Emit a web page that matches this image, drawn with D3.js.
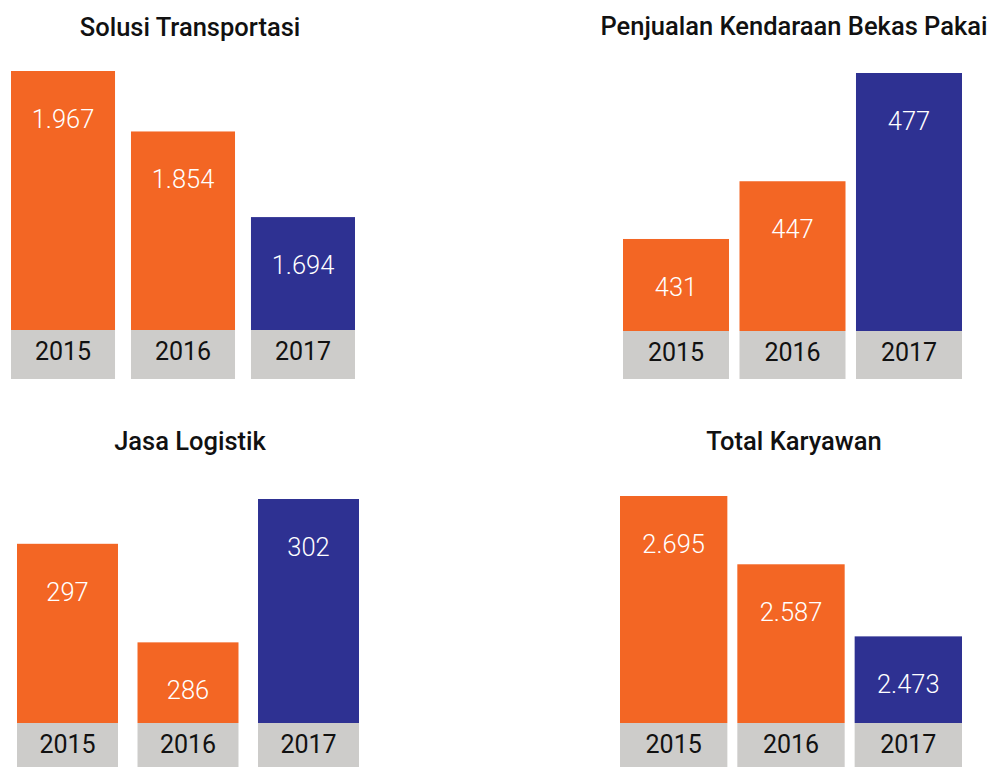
<!DOCTYPE html>
<html>
<head>
<meta charset="utf-8">
<script src="https://cdn.jsdelivr.net/npm/d3@7"></script>
<style>
  html, body { margin: 0; padding: 0; background: #ffffff; }
  svg { display: block; }
</style>
</head>
<body>
<svg id="chart" width="995" height="767"></svg>
<script>
// Operating highlights, 2015–2017
const years = ["2015", "2016", "2017"];
const panelTitles = [
  "Solusi Transportasi",
  "Penjualan Kendaraan Bekas Pakai",
  "Jasa Logistik",
  "Total Karyawan"
];
const solusiTransportasi = [1967, 1854, 1694];
const penjualanKendaraanBekas = [431, 447, 477];
const jasaLogistik = [297, 286, 302];
const totalKaryawan = [2695, 2587, 2473];
// lower end of each panel's value axis (bars start from a truncated baseline)
const scaleFloors = [1483, 405.5, 277, 2336];

const seriesList = [solusiTransportasi, penjualanKendaraanBekas, jasaLogistik, totalKaryawan];

// Panel geometry
const layout = [
  { x0: 11,  x1: 355, pad: 0.133, top: 71,  base: 330, strip: 49, titleX: 190, titleY: 36 },
  { x0: 623, x1: 962, pad: 0.09,  top: 73,  base: 331, strip: 48, titleX: 794, titleY: 35 },
  { x0: 17,  x1: 359, pad: 0.162, top: 499, base: 723, strip: 46, titleX: 190, titleY: 450 },
  { x0: 620, x1: 962, pad: 0.085, top: 496, base: 723, strip: 46, titleX: 794, titleY: 450 }
];

const ORANGE = "#F36624";
const BLUE = "#2E3192";
const GREY = "#CDCCCA";
const FONT = "Roboto, 'Noto Sans', sans-serif";

const fmt = d3.formatLocale({ decimal: ",", thousands: ".", grouping: [3], currency: ["", ""] }).format(",d");

const svg = d3.select("#chart");

seriesList.forEach((values, i) => {
  const L = layout[i];
  const g = svg.append("g");

  const x = d3.scaleBand().domain(years).range([L.x0, L.x1]).paddingInner(L.pad).paddingOuter(0);
  const y = d3.scaleLinear().domain([scaleFloors[i], d3.max(values)]).range([L.base, L.top]);

  const rows = years.map((yr, j) => ({ year: yr, value: values[j], last: j === years.length - 1 }));

  // title
  g.append("text")
    .attr("x", L.titleX)
    .attr("y", L.titleY)
    .attr("text-anchor", "middle")
    .attr("font-family", FONT)
    .attr("font-weight", 500)
    .attr("font-size", 25.5)
    .attr("fill", "#111111")
    .text(panelTitles[i]);

  // value bars
  g.selectAll("rect.bar")
    .data(rows)
    .join("rect")
    .attr("class", "bar")
    .attr("x", d => x(d.year))
    .attr("y", d => y(d.value))
    .attr("width", x.bandwidth())
    .attr("height", d => L.base - y(d.value))
    .attr("fill", d => d.last ? BLUE : ORANGE);

  // year strips under each bar
  g.selectAll("rect.strip")
    .data(rows)
    .join("rect")
    .attr("class", "strip")
    .attr("x", d => x(d.year))
    .attr("y", L.base)
    .attr("width", x.bandwidth())
    .attr("height", L.strip)
    .attr("fill", GREY);

  g.selectAll("text.year")
    .data(rows)
    .join("text")
    .attr("class", "year")
    .attr("x", d => x(d.year) + x.bandwidth() / 2)
    .attr("y", L.base + 30)
    .attr("text-anchor", "middle")
    .attr("font-family", FONT)
    .attr("font-weight", 400)
    .attr("font-size", 25)
    .attr("fill", "#111111")
    .text(d => d.year);

  // value labels inside the bars
  g.selectAll("text.value")
    .data(rows)
    .join("text")
    .attr("class", "value")
    .attr("x", d => x(d.year) + x.bandwidth() / 2)
    .attr("y", d => y(d.value) + 57)
    .attr("text-anchor", "middle")
    .attr("font-family", FONT)
    .attr("font-weight", 300)
    .attr("font-size", 25.5)
    .attr("fill", "#ffffff")
    .text(d => fmt(d.value));
});
</script>
</body>
</html>
